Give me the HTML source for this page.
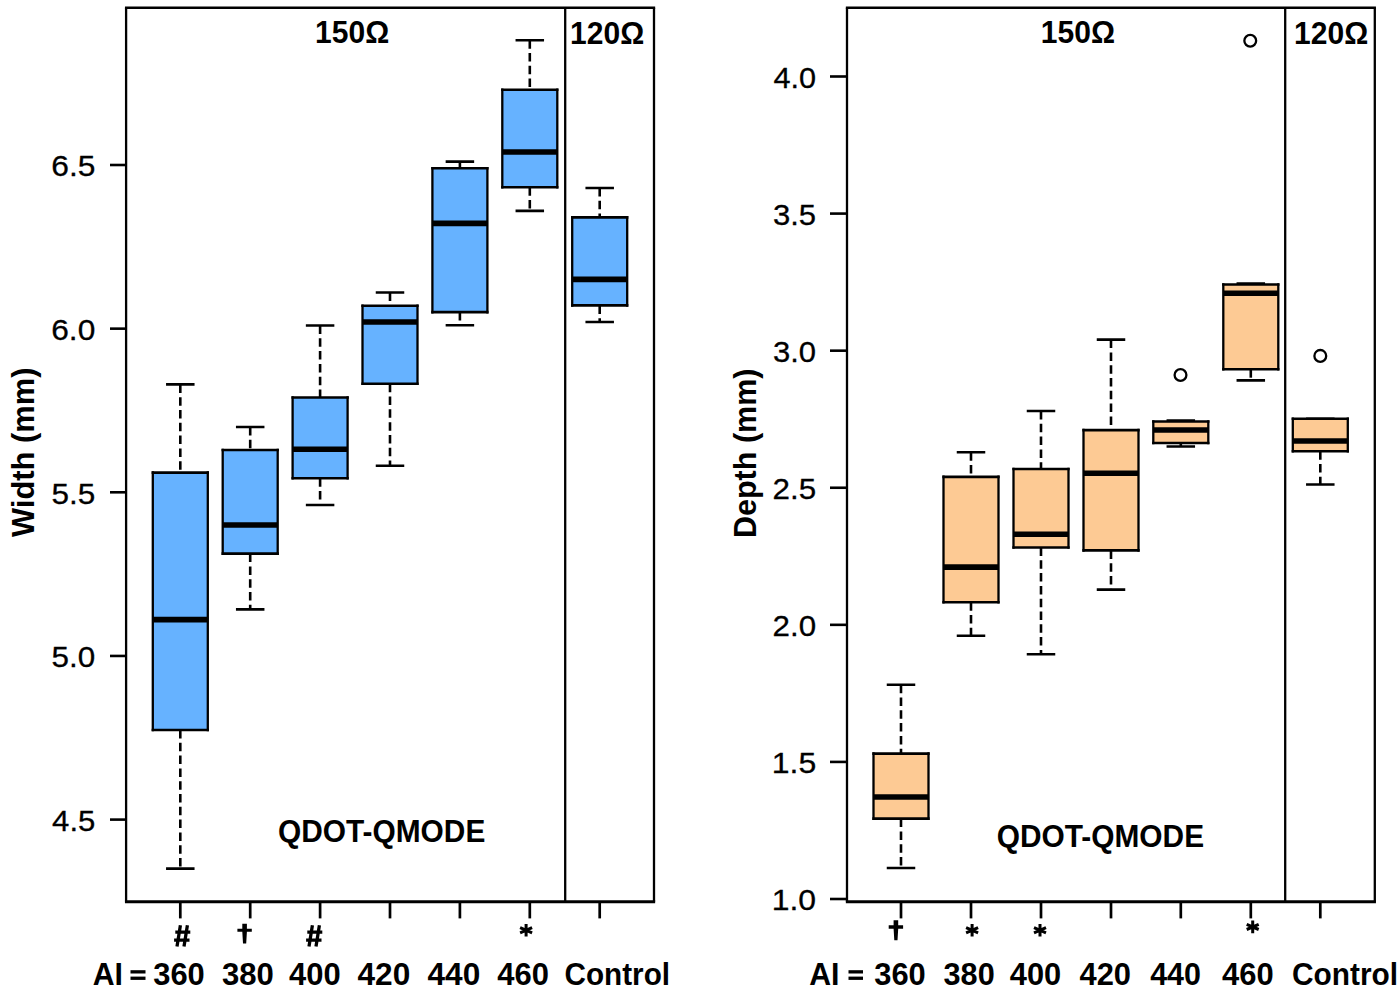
<!DOCTYPE html><html><head><meta charset="utf-8"><style>html,body{margin:0;padding:0;background:#fff;overflow:hidden;}svg{display:block;}text{font-family:"Liberation Sans", sans-serif;fill:#000;}</style></head><body>
<svg width="1400" height="999" viewBox="0 0 1400 999">
<rect width="1400" height="999" fill="#fff"/>
<line x1="180.3" y1="384.4" x2="180.3" y2="472.6" stroke="#000" stroke-width="2.6" stroke-dasharray="8.5 4.3"/>
<line x1="180.3" y1="730.0" x2="180.3" y2="868.6" stroke="#000" stroke-width="2.6" stroke-dasharray="8.5 4.3"/>
<path d="M166.05,384.4H194.55M166.05,868.6H194.55" stroke="#000" stroke-width="2.6" fill="none"/>
<rect x="152.8" y="472.6" width="55" height="257.4" fill="#66B2FF"/>
<path d="M151.65,472.6H208.95000000000002M151.65,730.0H208.95000000000002" stroke="#000" stroke-width="2.6" fill="none"/>
<path d="M152.8,471.3V731.3M207.8,471.3V731.3" stroke="#000" stroke-width="2.3" fill="none"/>
<line x1="152.8" y1="619.6" x2="207.8" y2="619.6" stroke="#000" stroke-width="5.6"/>
<line x1="250.20000000000002" y1="427.0" x2="250.20000000000002" y2="450.0" stroke="#000" stroke-width="2.6" stroke-dasharray="8.5 4.3"/>
<line x1="250.20000000000002" y1="553.6" x2="250.20000000000002" y2="609.4" stroke="#000" stroke-width="2.6" stroke-dasharray="8.5 4.3"/>
<path d="M235.95000000000002,427.0H264.45000000000005M235.95000000000002,609.4H264.45000000000005" stroke="#000" stroke-width="2.6" fill="none"/>
<rect x="222.70000000000002" y="450.0" width="55" height="103.60000000000002" fill="#66B2FF"/>
<path d="M221.55,450.0H278.85M221.55,553.6H278.85" stroke="#000" stroke-width="2.6" fill="none"/>
<path d="M222.70000000000002,448.7V554.9M277.70000000000005,448.7V554.9" stroke="#000" stroke-width="2.3" fill="none"/>
<line x1="222.70000000000002" y1="525.0" x2="277.70000000000005" y2="525.0" stroke="#000" stroke-width="5.6"/>
<line x1="320.1" y1="325.5" x2="320.1" y2="397.5" stroke="#000" stroke-width="2.6" stroke-dasharray="8.5 4.3"/>
<line x1="320.1" y1="478.3" x2="320.1" y2="505.0" stroke="#000" stroke-width="2.6" stroke-dasharray="8.5 4.3"/>
<path d="M305.85,325.5H334.35M305.85,505.0H334.35" stroke="#000" stroke-width="2.6" fill="none"/>
<rect x="292.6" y="397.5" width="55" height="80.80000000000001" fill="#66B2FF"/>
<path d="M291.45000000000005,397.5H348.75M291.45000000000005,478.3H348.75" stroke="#000" stroke-width="2.6" fill="none"/>
<path d="M292.6,396.2V479.6M347.6,396.2V479.6" stroke="#000" stroke-width="2.3" fill="none"/>
<line x1="292.6" y1="449.3" x2="347.6" y2="449.3" stroke="#000" stroke-width="5.6"/>
<line x1="390.0" y1="292.5" x2="390.0" y2="305.75" stroke="#000" stroke-width="2.6" stroke-dasharray="8.5 4.3"/>
<line x1="390.0" y1="383.75" x2="390.0" y2="465.75" stroke="#000" stroke-width="2.6" stroke-dasharray="8.5 4.3"/>
<path d="M375.75,292.5H404.25M375.75,465.75H404.25" stroke="#000" stroke-width="2.6" fill="none"/>
<rect x="362.5" y="305.75" width="55" height="78.0" fill="#66B2FF"/>
<path d="M361.35,305.75H418.65M361.35,383.75H418.65" stroke="#000" stroke-width="2.6" fill="none"/>
<path d="M362.5,304.45V385.05M417.5,304.45V385.05" stroke="#000" stroke-width="2.3" fill="none"/>
<line x1="362.5" y1="322.0" x2="417.5" y2="322.0" stroke="#000" stroke-width="5.6"/>
<line x1="459.90000000000003" y1="161.6" x2="459.90000000000003" y2="168.3" stroke="#000" stroke-width="2.6" stroke-dasharray="8.5 4.3"/>
<line x1="459.90000000000003" y1="312.1" x2="459.90000000000003" y2="325.3" stroke="#000" stroke-width="2.6" stroke-dasharray="8.5 4.3"/>
<path d="M445.65000000000003,161.6H474.15000000000003M445.65000000000003,325.3H474.15000000000003" stroke="#000" stroke-width="2.6" fill="none"/>
<rect x="432.40000000000003" y="168.3" width="55" height="143.8" fill="#66B2FF"/>
<path d="M431.25000000000006,168.3H488.55M431.25000000000006,312.1H488.55" stroke="#000" stroke-width="2.6" fill="none"/>
<path d="M432.40000000000003,167.0V313.40000000000003M487.40000000000003,167.0V313.40000000000003" stroke="#000" stroke-width="2.3" fill="none"/>
<line x1="432.40000000000003" y1="223.4" x2="487.40000000000003" y2="223.4" stroke="#000" stroke-width="5.6"/>
<line x1="529.8" y1="40.2" x2="529.8" y2="89.8" stroke="#000" stroke-width="2.6" stroke-dasharray="8.5 4.3"/>
<line x1="529.8" y1="187.2" x2="529.8" y2="210.9" stroke="#000" stroke-width="2.6" stroke-dasharray="8.5 4.3"/>
<path d="M515.55,40.2H544.05M515.55,210.9H544.05" stroke="#000" stroke-width="2.6" fill="none"/>
<rect x="502.29999999999995" y="89.8" width="55" height="97.39999999999999" fill="#66B2FF"/>
<path d="M501.15,89.8H558.4499999999999M501.15,187.2H558.4499999999999" stroke="#000" stroke-width="2.6" fill="none"/>
<path d="M502.29999999999995,88.5V188.5M557.3,88.5V188.5" stroke="#000" stroke-width="2.3" fill="none"/>
<line x1="502.29999999999995" y1="152.0" x2="557.3" y2="152.0" stroke="#000" stroke-width="5.6"/>
<line x1="599.7" y1="188.0" x2="599.7" y2="217.4" stroke="#000" stroke-width="2.6" stroke-dasharray="8.5 4.3"/>
<line x1="599.7" y1="305.4" x2="599.7" y2="322.0" stroke="#000" stroke-width="2.6" stroke-dasharray="8.5 4.3"/>
<path d="M585.45,188.0H613.95M585.45,322.0H613.95" stroke="#000" stroke-width="2.6" fill="none"/>
<rect x="572.2" y="217.4" width="55" height="87.99999999999997" fill="#66B2FF"/>
<path d="M571.0500000000001,217.4H628.35M571.0500000000001,305.4H628.35" stroke="#000" stroke-width="2.6" fill="none"/>
<path d="M572.2,216.1V306.7M627.2,216.1V306.7" stroke="#000" stroke-width="2.3" fill="none"/>
<line x1="572.2" y1="279.4" x2="627.2" y2="279.4" stroke="#000" stroke-width="5.6"/>
<path d="M124.94999999999999,7.8H655.15" stroke="#000" stroke-width="2.5" fill="none"/>
<path d="M124.94999999999999,901.8H655.15" stroke="#000" stroke-width="3.0" fill="none"/>
<path d="M126.1,7.8V901.8M654,7.8V901.8M565.2,7.8V901.8" stroke="#000" stroke-width="2.3" fill="none"/>
<line x1="110" y1="165.00" x2="126.1" y2="165.00" stroke="#000" stroke-width="2.6"/>
<text x="51.24" y="176.35" font-size="30" font-weight="normal" textLength="44.15" lengthAdjust="spacingAndGlyphs" stroke="#000" stroke-width="0.3">6.5</text>
<line x1="110" y1="328.65" x2="126.1" y2="328.65" stroke="#000" stroke-width="2.6"/>
<text x="51.24" y="340.00" font-size="30" font-weight="normal" textLength="44.05" lengthAdjust="spacingAndGlyphs" stroke="#000" stroke-width="0.3">6.0</text>
<line x1="110" y1="492.30" x2="126.1" y2="492.30" stroke="#000" stroke-width="2.6"/>
<text x="51.59" y="503.65" font-size="30" font-weight="normal" textLength="43.78" lengthAdjust="spacingAndGlyphs" stroke="#000" stroke-width="0.3">5.5</text>
<line x1="110" y1="655.95" x2="126.1" y2="655.95" stroke="#000" stroke-width="2.6"/>
<text x="51.59" y="667.30" font-size="30" font-weight="normal" textLength="43.69" lengthAdjust="spacingAndGlyphs" stroke="#000" stroke-width="0.3">5.0</text>
<line x1="110" y1="819.60" x2="126.1" y2="819.60" stroke="#000" stroke-width="2.6"/>
<text x="52.14" y="830.95" font-size="30" font-weight="normal" textLength="43.22" lengthAdjust="spacingAndGlyphs" stroke="#000" stroke-width="0.3">4.5</text>
<line x1="180.3" y1="901.8" x2="180.3" y2="918.4" stroke="#000" stroke-width="2.7"/>
<line x1="250.20000000000002" y1="901.8" x2="250.20000000000002" y2="918.4" stroke="#000" stroke-width="2.7"/>
<line x1="320.1" y1="901.8" x2="320.1" y2="918.4" stroke="#000" stroke-width="2.7"/>
<line x1="390.0" y1="901.8" x2="390.0" y2="918.4" stroke="#000" stroke-width="2.7"/>
<line x1="459.90000000000003" y1="901.8" x2="459.90000000000003" y2="918.4" stroke="#000" stroke-width="2.7"/>
<line x1="529.8" y1="901.8" x2="529.8" y2="918.4" stroke="#000" stroke-width="2.7"/>
<line x1="599.7" y1="901.8" x2="599.7" y2="918.4" stroke="#000" stroke-width="2.7"/>
<text x="315.11" y="43.40" font-size="31" font-weight="bold" textLength="74.11" lengthAdjust="spacingAndGlyphs">150Ω</text>
<text x="570.11" y="43.50" font-size="31" font-weight="bold" textLength="74.11" lengthAdjust="spacingAndGlyphs">120Ω</text>
<text x="277.98" y="841.50" font-size="31" font-weight="bold" textLength="207.37" lengthAdjust="spacingAndGlyphs">QDOT-QMODE</text>
<text x="368.97" y="33.60" font-size="31" font-weight="bold" textLength="169.57" lengthAdjust="spacingAndGlyphs" transform="rotate(-90) translate(-906,0)">Width (mm)</text>
<text x="92.75" y="985.30" font-size="31" font-weight="bold" textLength="30.28" lengthAdjust="spacingAndGlyphs">AI</text>
<rect x="130.5" y="970.2" width="15.0" height="3.3" fill="#000"/>
<rect x="130.5" y="976.6" width="15.0" height="3.3" fill="#000"/>
<text x="153.29" y="985.30" font-size="31" font-weight="bold" textLength="51.47" lengthAdjust="spacingAndGlyphs">360</text>
<text x="221.99" y="985.30" font-size="31" font-weight="bold" textLength="51.89" lengthAdjust="spacingAndGlyphs">380</text>
<text x="289.03" y="985.30" font-size="31" font-weight="bold" textLength="51.64" lengthAdjust="spacingAndGlyphs">400</text>
<text x="357.52" y="985.30" font-size="31" font-weight="bold" textLength="52.78" lengthAdjust="spacingAndGlyphs">420</text>
<text x="427.52" y="985.30" font-size="31" font-weight="bold" textLength="52.78" lengthAdjust="spacingAndGlyphs">440</text>
<text x="497.23" y="985.30" font-size="31" font-weight="bold" textLength="51.64" lengthAdjust="spacingAndGlyphs">460</text>
<text x="564.48" y="985.30" font-size="31" font-weight="bold" textLength="105.62" lengthAdjust="spacingAndGlyphs">Control</text>
<path d="M180.4,925.3L177.0,946.4M187.4,925.3L184.0,946.4M175.3,932.05H190.3M174.1,940.07H189.5" stroke="#000" stroke-width="3.3" fill="none"/>
<path d="M242.29999999999998,923.8H246.9V928.8H251.79999999999998V931.8H246.9L246.2,943.6H243.0L242.29999999999998,931.8H237.4V928.8H242.29999999999998Z" fill="#000"/>
<path d="M312.4,925.3L309.0,946.4M319.4,925.3L316.0,946.4M307.29999999999995,932.05H322.29999999999995M306.09999999999997,940.07H321.5" stroke="#000" stroke-width="3.3" fill="none"/>
<path d="M526.1,923.9000000000001V936.5M520.1,927.6L532.1,932.8000000000001M520.1,932.8000000000001L532.1,927.6" stroke="#000" stroke-width="3.0" fill="none"/>
<line x1="901" y1="684.7" x2="901" y2="753.6" stroke="#000" stroke-width="2.6" stroke-dasharray="8.5 4.3"/>
<line x1="901" y1="818.6" x2="901" y2="868.0" stroke="#000" stroke-width="2.6" stroke-dasharray="8.5 4.3"/>
<path d="M886.75,684.7H915.25M886.75,868.0H915.25" stroke="#000" stroke-width="2.6" fill="none"/>
<rect x="873.5" y="753.6" width="55" height="65.0" fill="#FDCA94"/>
<path d="M872.35,753.6H929.65M872.35,818.6H929.65" stroke="#000" stroke-width="2.6" fill="none"/>
<path d="M873.5,752.3000000000001V819.9M928.5,752.3000000000001V819.9" stroke="#000" stroke-width="2.3" fill="none"/>
<line x1="873.5" y1="797.0" x2="928.5" y2="797.0" stroke="#000" stroke-width="5.6"/>
<line x1="971" y1="452.2" x2="971" y2="476.9" stroke="#000" stroke-width="2.6" stroke-dasharray="8.5 4.3"/>
<line x1="971" y1="602.2" x2="971" y2="635.8" stroke="#000" stroke-width="2.6" stroke-dasharray="8.5 4.3"/>
<path d="M956.75,452.2H985.25M956.75,635.8H985.25" stroke="#000" stroke-width="2.6" fill="none"/>
<rect x="943.5" y="476.9" width="55" height="125.30000000000007" fill="#FDCA94"/>
<path d="M942.35,476.9H999.65M942.35,602.2H999.65" stroke="#000" stroke-width="2.6" fill="none"/>
<path d="M943.5,475.59999999999997V603.5M998.5,475.59999999999997V603.5" stroke="#000" stroke-width="2.3" fill="none"/>
<line x1="943.5" y1="567.1" x2="998.5" y2="567.1" stroke="#000" stroke-width="5.6"/>
<line x1="1041" y1="411.0" x2="1041" y2="469.0" stroke="#000" stroke-width="2.6" stroke-dasharray="8.5 4.3"/>
<line x1="1041" y1="547.5" x2="1041" y2="654.3" stroke="#000" stroke-width="2.6" stroke-dasharray="8.5 4.3"/>
<path d="M1026.75,411.0H1055.25M1026.75,654.3H1055.25" stroke="#000" stroke-width="2.6" fill="none"/>
<rect x="1013.5" y="469.0" width="55" height="78.5" fill="#FDCA94"/>
<path d="M1012.35,469.0H1069.65M1012.35,547.5H1069.65" stroke="#000" stroke-width="2.6" fill="none"/>
<path d="M1013.5,467.7V548.8M1068.5,467.7V548.8" stroke="#000" stroke-width="2.3" fill="none"/>
<line x1="1013.5" y1="534.3" x2="1068.5" y2="534.3" stroke="#000" stroke-width="5.6"/>
<line x1="1111" y1="339.6" x2="1111" y2="430.1" stroke="#000" stroke-width="2.6" stroke-dasharray="8.5 4.3"/>
<line x1="1111" y1="550.4" x2="1111" y2="589.6" stroke="#000" stroke-width="2.6" stroke-dasharray="8.5 4.3"/>
<path d="M1096.75,339.6H1125.25M1096.75,589.6H1125.25" stroke="#000" stroke-width="2.6" fill="none"/>
<rect x="1083.5" y="430.1" width="55" height="120.29999999999995" fill="#FDCA94"/>
<path d="M1082.35,430.1H1139.65M1082.35,550.4H1139.65" stroke="#000" stroke-width="2.6" fill="none"/>
<path d="M1083.5,428.8V551.6999999999999M1138.5,428.8V551.6999999999999" stroke="#000" stroke-width="2.3" fill="none"/>
<line x1="1083.5" y1="473.3" x2="1138.5" y2="473.3" stroke="#000" stroke-width="5.6"/>
<line x1="1180.8" y1="443.0" x2="1180.8" y2="446.5" stroke="#000" stroke-width="2.6" stroke-dasharray="8.5 4.3"/>
<path d="M1166.55,420.5H1195.05M1166.55,446.5H1195.05" stroke="#000" stroke-width="2.6" fill="none"/>
<rect x="1153.3" y="421.5" width="55" height="21.5" fill="#FDCA94"/>
<path d="M1152.1499999999999,421.5H1209.45M1152.1499999999999,443.0H1209.45" stroke="#000" stroke-width="2.6" fill="none"/>
<path d="M1153.3,420.2V444.3M1208.3,420.2V444.3" stroke="#000" stroke-width="2.3" fill="none"/>
<line x1="1153.3" y1="430.0" x2="1208.3" y2="430.0" stroke="#000" stroke-width="5.6"/>
<line x1="1250.8" y1="369.2" x2="1250.8" y2="380.4" stroke="#000" stroke-width="2.6" stroke-dasharray="8.5 4.3"/>
<path d="M1236.55,283.5H1265.05M1236.55,380.4H1265.05" stroke="#000" stroke-width="2.6" fill="none"/>
<rect x="1223.3" y="284.5" width="55" height="84.69999999999999" fill="#FDCA94"/>
<path d="M1222.1499999999999,284.5H1279.45M1222.1499999999999,369.2H1279.45" stroke="#000" stroke-width="2.6" fill="none"/>
<path d="M1223.3,283.2V370.5M1278.3,283.2V370.5" stroke="#000" stroke-width="2.3" fill="none"/>
<line x1="1223.3" y1="293.2" x2="1278.3" y2="293.2" stroke="#000" stroke-width="5.6"/>
<line x1="1320.3" y1="451.2" x2="1320.3" y2="484.5" stroke="#000" stroke-width="2.6" stroke-dasharray="8.5 4.3"/>
<path d="M1306.05,418.8H1334.55M1306.05,484.5H1334.55" stroke="#000" stroke-width="2.6" fill="none"/>
<rect x="1292.8" y="418.8" width="55" height="32.39999999999998" fill="#FDCA94"/>
<path d="M1291.6499999999999,418.8H1348.95M1291.6499999999999,451.2H1348.95" stroke="#000" stroke-width="2.6" fill="none"/>
<path d="M1292.8,417.5V452.5M1347.8,417.5V452.5" stroke="#000" stroke-width="2.3" fill="none"/>
<line x1="1292.8" y1="441.0" x2="1347.8" y2="441.0" stroke="#000" stroke-width="5.6"/>
<circle cx="1180.5" cy="375.0" r="5.9" fill="none" stroke="#000" stroke-width="2.3"/>
<circle cx="1250.25" cy="40.75" r="5.9" fill="none" stroke="#000" stroke-width="2.3"/>
<circle cx="1320.3" cy="355.9" r="5.9" fill="none" stroke="#000" stroke-width="2.3"/>
<path d="M845.85,7.8H1375.95" stroke="#000" stroke-width="2.5" fill="none"/>
<path d="M845.85,901.8H1375.95" stroke="#000" stroke-width="3.0" fill="none"/>
<path d="M847,7.8V901.8M1374.8,7.8V901.8M1285.2,7.8V901.8" stroke="#000" stroke-width="2.3" fill="none"/>
<line x1="830" y1="899.00" x2="847" y2="899.00" stroke="#000" stroke-width="2.6"/>
<text x="771.72" y="910.35" font-size="30" font-weight="normal" textLength="44.38" lengthAdjust="spacingAndGlyphs" stroke="#000" stroke-width="0.3">1.0</text>
<line x1="830" y1="761.92" x2="847" y2="761.92" stroke="#000" stroke-width="2.6"/>
<text x="771.71" y="773.27" font-size="30" font-weight="normal" textLength="44.48" lengthAdjust="spacingAndGlyphs" stroke="#000" stroke-width="0.3">1.5</text>
<line x1="830" y1="624.83" x2="847" y2="624.83" stroke="#000" stroke-width="2.6"/>
<text x="772.58" y="636.18" font-size="30" font-weight="normal" textLength="43.50" lengthAdjust="spacingAndGlyphs" stroke="#000" stroke-width="0.3">2.0</text>
<line x1="830" y1="487.75" x2="847" y2="487.75" stroke="#000" stroke-width="2.6"/>
<text x="772.57" y="499.10" font-size="30" font-weight="normal" textLength="43.59" lengthAdjust="spacingAndGlyphs" stroke="#000" stroke-width="0.3">2.5</text>
<line x1="830" y1="350.67" x2="847" y2="350.67" stroke="#000" stroke-width="2.6"/>
<text x="772.97" y="362.02" font-size="30" font-weight="normal" textLength="43.09" lengthAdjust="spacingAndGlyphs" stroke="#000" stroke-width="0.3">3.0</text>
<line x1="830" y1="213.59" x2="847" y2="213.59" stroke="#000" stroke-width="2.6"/>
<text x="772.97" y="224.94" font-size="30" font-weight="normal" textLength="43.19" lengthAdjust="spacingAndGlyphs" stroke="#000" stroke-width="0.3">3.5</text>
<line x1="830" y1="76.50" x2="847" y2="76.50" stroke="#000" stroke-width="2.6"/>
<text x="773.45" y="87.85" font-size="30" font-weight="normal" textLength="42.60" lengthAdjust="spacingAndGlyphs" stroke="#000" stroke-width="0.3">4.0</text>
<line x1="901" y1="901.8" x2="901" y2="918.4" stroke="#000" stroke-width="2.7"/>
<line x1="971" y1="901.8" x2="971" y2="918.4" stroke="#000" stroke-width="2.7"/>
<line x1="1041" y1="901.8" x2="1041" y2="918.4" stroke="#000" stroke-width="2.7"/>
<line x1="1111" y1="901.8" x2="1111" y2="918.4" stroke="#000" stroke-width="2.7"/>
<line x1="1180.8" y1="901.8" x2="1180.8" y2="918.4" stroke="#000" stroke-width="2.7"/>
<line x1="1250.8" y1="901.8" x2="1250.8" y2="918.4" stroke="#000" stroke-width="2.7"/>
<line x1="1320.3" y1="901.8" x2="1320.3" y2="918.4" stroke="#000" stroke-width="2.7"/>
<text x="1040.81" y="43.40" font-size="31" font-weight="bold" textLength="74.21" lengthAdjust="spacingAndGlyphs">150Ω</text>
<text x="1294.11" y="43.50" font-size="31" font-weight="bold" textLength="74.11" lengthAdjust="spacingAndGlyphs">120Ω</text>
<text x="996.79" y="846.60" font-size="31" font-weight="bold" textLength="207.27" lengthAdjust="spacingAndGlyphs">QDOT-QMODE</text>
<text x="367.96" y="756.00" font-size="31" font-weight="bold" textLength="169.56" lengthAdjust="spacingAndGlyphs" transform="rotate(-90) translate(-906,0)">Depth (mm)</text>
<text x="809.25" y="985.30" font-size="31" font-weight="bold" textLength="30.28" lengthAdjust="spacingAndGlyphs">AI</text>
<rect x="848.5" y="970.2" width="14.5" height="3.3" fill="#000"/>
<rect x="848.5" y="976.6" width="14.5" height="3.3" fill="#000"/>
<text x="874.29" y="985.30" font-size="31" font-weight="bold" textLength="51.47" lengthAdjust="spacingAndGlyphs">360</text>
<text x="943.60" y="985.30" font-size="31" font-weight="bold" textLength="51.06" lengthAdjust="spacingAndGlyphs">380</text>
<text x="1009.83" y="985.30" font-size="31" font-weight="bold" textLength="51.43" lengthAdjust="spacingAndGlyphs">400</text>
<text x="1079.53" y="985.30" font-size="31" font-weight="bold" textLength="51.53" lengthAdjust="spacingAndGlyphs">420</text>
<text x="1150.14" y="985.30" font-size="31" font-weight="bold" textLength="50.81" lengthAdjust="spacingAndGlyphs">440</text>
<text x="1222.03" y="985.30" font-size="31" font-weight="bold" textLength="51.64" lengthAdjust="spacingAndGlyphs">460</text>
<text x="1291.98" y="985.30" font-size="31" font-weight="bold" textLength="106.14" lengthAdjust="spacingAndGlyphs">Control</text>
<path d="M893.6,920.3H898.1999999999999V925.3H903.1V928.7H898.1999999999999L897.5,940.3H894.3L893.6,928.7H888.6999999999999V925.3H893.6Z" fill="#000"/>
<path d="M972.1,923.9000000000001V936.5M966.1,927.6L978.1,932.8000000000001M966.1,932.8000000000001L978.1,927.6" stroke="#000" stroke-width="3.0" fill="none"/>
<path d="M1040.0,923.9000000000001V936.5M1034.0,927.6L1046.0,932.8000000000001M1034.0,932.8000000000001L1046.0,927.6" stroke="#000" stroke-width="3.0" fill="none"/>
<path d="M1252.7,920.6V933.1999999999999M1246.7,924.3L1258.7,929.5M1246.7,929.5L1258.7,924.3" stroke="#000" stroke-width="3.0" fill="none"/>
</svg></body></html>
